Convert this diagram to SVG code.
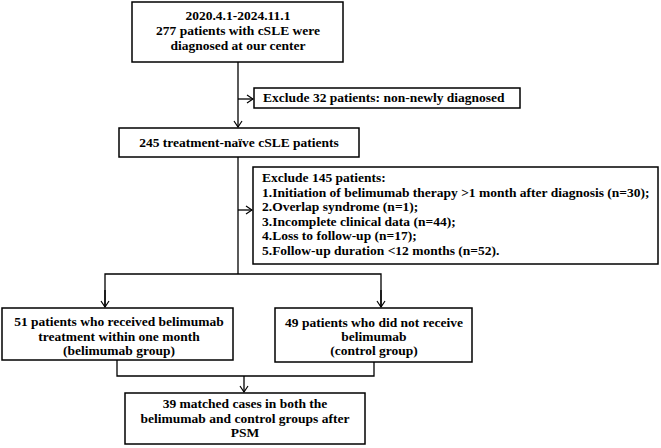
<svg xmlns="http://www.w3.org/2000/svg" width="661" height="448" viewBox="0 0 661 448">
<style>
.box{fill:#fff;stroke:#000;stroke-width:1.5}
.t{font-family:"Liberation Serif","Times New Roman",serif;font-weight:bold;font-size:13.5px;fill:#000}
.c{text-anchor:middle}
.ln{fill:none;stroke:#000;stroke-width:1.3}
</style>
<defs>
<marker id="arr" markerWidth="8" markerHeight="10" refX="7" refY="5" orient="auto" markerUnits="userSpaceOnUse">
<path d="M1,1 L7,5 L1,9" fill="none" stroke="#000" stroke-width="1.2"/>
</marker>
</defs>
<rect width="661" height="448" fill="#fff"/>
<g id="connectors">
<line class="ln" x1="238" y1="62" x2="238" y2="127" marker-end="url(#arr)"/>
<line class="ln" x1="238" y1="99" x2="253" y2="99" marker-end="url(#arr)"/>
<line class="ln" x1="238" y1="157" x2="238" y2="274"/>
<line class="ln" x1="238" y1="210" x2="252" y2="210" marker-end="url(#arr)"/>
<polyline class="ln" points="105,307 105,274 381,274 381,307"/>
<line class="ln" x1="105" y1="290" x2="105" y2="307" marker-end="url(#arr)"/>
<line class="ln" x1="381" y1="290" x2="381" y2="307" marker-end="url(#arr)"/>
<polyline class="ln" points="117,360 117,376 374,376 374,362"/>
<line class="ln" x1="244" y1="376" x2="244" y2="392" marker-end="url(#arr)"/>
</g>
<g id="n1">
<rect class="box" x="132" y="2" width="211" height="60"/>
<text class="t c" x="238" y="20">2020.4.1-2024.11.1</text>
<text class="t c" x="238" y="35">277 patients with cSLE were</text>
<text class="t c" x="238" y="50">diagnosed at our center</text>
</g>
<g id="n2">
<rect class="box" x="254" y="88" width="266" height="20"/>
<text class="t" x="263" y="102">Exclude 32 patients: non-newly diagnosed</text>
</g>
<g id="n3">
<rect class="box" x="119" y="128" width="240" height="29"/>
<text class="t c" x="239" y="147">245 treatment-naïve cSLE patients</text>
</g>
<g id="n4">
<rect class="box" x="253" y="167" width="405" height="97"/>
<text class="t" x="262" y="182">Exclude 145 patients:</text>
<text class="t" x="262" y="196.5">1.Initiation of belimumab therapy &gt;1 month after diagnosis (n=30);</text>
<text class="t" x="262" y="211">2.Overlap syndrome (n=1);</text>
<text class="t" x="262" y="225.5">3.Incomplete clinical data (n=44);</text>
<text class="t" x="262" y="240">4.Loss to follow-up (n=17);</text>
<text class="t" x="262" y="254.5">5.Follow-up duration &lt;12 months (n=52).</text>
</g>
<g id="n5">
<rect class="box" x="2" y="308" width="231" height="52"/>
<text class="t c" x="119" y="326">51 patients who received belimumab</text>
<text class="t c" x="119" y="340.5">treatment within one month</text>
<text class="t c" x="119" y="355">(belimumab group)</text>
</g>
<g id="n6">
<rect class="box" x="275" y="308" width="197" height="54"/>
<text class="t c" x="374" y="327">49 patients who did not receive</text>
<text class="t c" x="374" y="341">belimumab</text>
<text class="t c" x="374" y="355">(control group)</text>
</g>
<g id="n7">
<rect class="box" x="125" y="393" width="240" height="51"/>
<text class="t c" x="245" y="408">39 matched cases in both the</text>
<text class="t c" x="245" y="422.5">belimumab and control groups after</text>
<text class="t c" x="245" y="437">PSM</text>
</g>
</svg>
